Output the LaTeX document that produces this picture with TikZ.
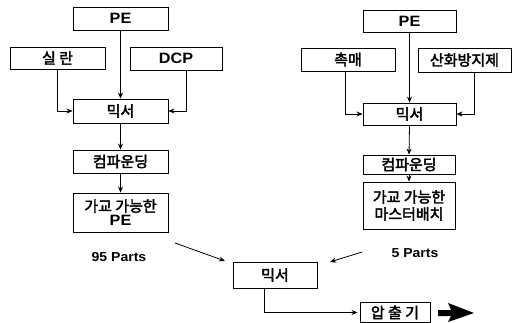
\documentclass[tikz,border=0pt]{standalone}
\usepackage{fontspec}
\setmainfont{Noto Sans CJK KR}[FakeBold=2.5]
\newfontfamily\latin{Liberation Sans}[FakeStretch=1.08]
\usetikzlibrary{arrows.meta}
\begin{document}
\begin{tikzpicture}[x=1pt,y=-1pt,
  box/.style={draw=black,line width=0.9pt,inner sep=0pt,font=\fontsize{15}{16}\selectfont,align=center},
  lbl/.style={inner sep=0pt,font=\latin\bfseries\fontsize{13}{14}\selectfont},
  arr/.style={draw=black,line width=0.8pt,-{Stealth[length=6pt,width=5pt]}}]
\useasboundingbox[fill=white] (0,0) rectangle (518,323);
% left column
\node[box,minimum width=95pt,minimum height=23pt] (lpe) at (120.5,18.5) {\latin\bfseries PE};
\node[box,minimum width=95pt,minimum height=22pt] (sil) at (57.5,58) {실 란};
\node[box,minimum width=92pt,minimum height=23pt] (dcp) at (176,58.5) {\latin\bfseries DCP};
\node[box,minimum width=95pt,minimum height=24pt] (lmix) at (120.5,111) {믹서};
\node[box,minimum width=95pt,minimum height=23pt] (lcomp) at (120.5,161.5) {컴파운딩};
\node[box,minimum width=95pt,minimum height=39pt] (lxpe) at (120.5,212.5) {가교 가능한\\[-2pt]{\latin\bfseries PE}};
% right column
\node[box,minimum width=93pt,minimum height=22pt] (rpe) at (409.5,21) {\latin\bfseries PE};
\node[box,minimum width=94pt,minimum height=23pt] (cat) at (348,59.5) {촉매};
\node[box,minimum width=93pt,minimum height=24pt] (anti) at (464.5,60) {산화방지제};
\node[box,minimum width=93pt,minimum height=22pt] (rmix) at (409.5,114) {믹서};
\node[box,minimum width=92pt,minimum height=19pt] (rcomp) at (409,164.5) {컴파운딩};
\node[box,minimum width=92pt,minimum height=47pt] (rmb) at (409,205.5) {가교 가능한\\[1pt]마스터배치};
% bottom
\node[box,minimum width=84pt,minimum height=26pt] (bmix) at (275,275) {믹서};
\node[box,minimum width=70pt,minimum height=20pt] (ext) at (395,312.5) {압 출 기};
\node[lbl] (p95) at (119,257) {95 Parts};
\node[lbl] (p5) at (415,253) {5 Parts};
\coordinate (a1s) at (175,243);
\coordinate (a1e) at (225,261);
\coordinate (a2s) at (362,252);
\coordinate (a2e) at (330,262);
% connectors
\draw[arr] (lpe.south) -- (lmix.north);
\draw[arr] (sil.south) |- (lmix.west);
\draw[arr] ([xshift=10pt]dcp.south) |- (lmix.east);
\draw[arr] (lmix.south) -- (lcomp.north);
\draw[arr] (lcomp.south) -- (lxpe.north);
\draw[arr] (rpe.south) -- (rmix.north);
\draw[arr] ([xshift=-3pt]cat.south) |- (rmix.west);
\draw[arr] ([xshift=10pt]anti.south) |- (rmix.east);
\draw[arr] (rmix.south) -- (rcomp.north);
\draw[arr] (rcomp.south) -- (rmb.north);
\draw[arr] (a1s) -- (a1e);
\draw[arr] (a2s) -- (a2e);
\draw[arr] ([xshift=-11pt]bmix.south) |- ([xshift=-2pt]ext.west);
% big arrow
\fill[black] (438,310) -- (451,310) -- (448,303) -- (474,313) -- (448,322) -- (451,316) -- (438,316) -- cycle;
\end{tikzpicture}
\end{document}
